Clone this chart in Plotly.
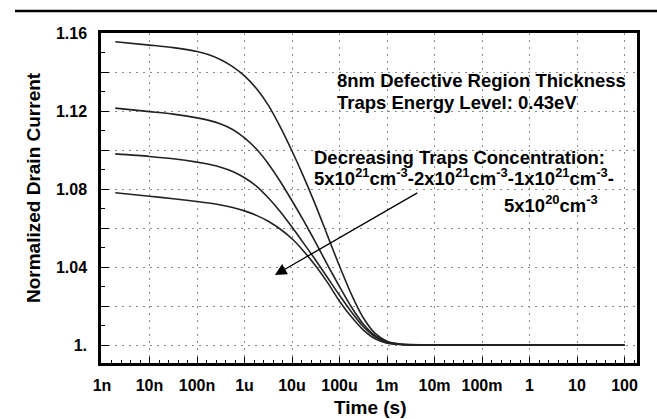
import plotly.graph_objects as go

# ---- data ----
time_s = [1.9e-9, 1e-8, 3.16e-8, 1e-7, 1.78e-7, 3.16e-7, 5.62e-7, 1e-6, 1.78e-6, 3.16e-6,
          5.62e-6, 1e-5, 1.78e-5, 3.16e-5, 5.62e-5, 1e-4, 1.78e-4, 3.16e-4, 5.62e-4, 1e-3,
          1.78e-3, 3.16e-3, 1e-2, 1e-1, 1, 10, 100]

conc_5e21 = [1.1555, 1.1538, 1.1525, 1.1505, 1.1488, 1.1463, 1.1428, 1.1380, 1.1315, 1.1230,
             1.1120, 1.0995, 1.0860, 1.0715, 1.0560, 1.0405, 1.0260, 1.0140, 1.0060, 1.0020,
             1.0006, 1.0002, 1.0, 1.0, 1.0, 1.0, 1.0]
conc_2e21 = [1.1215, 1.1197, 1.1184, 1.1165, 1.1152, 1.1133, 1.1105, 1.1062, 1.1005, 1.0930,
             1.0840, 1.0740, 1.0635, 1.0525, 1.0410, 1.0300, 1.0195, 1.0108, 1.0048, 1.0016,
             1.0005, 1.0001, 1.0, 1.0, 1.0, 1.0, 1.0]
conc_1e21 = [1.0980, 1.0967, 1.0955, 1.0938, 1.0927, 1.0912, 1.0890, 1.0858, 1.0815, 1.0755,
             1.0685, 1.0605, 1.0520, 1.0435, 1.0345, 1.0255, 1.0170, 1.0095, 1.0042, 1.0014,
             1.0004, 1.0001, 1.0, 1.0, 1.0, 1.0, 1.0]
conc_5e20 = [1.0781, 1.0763, 1.0750, 1.0736, 1.0728, 1.0718, 1.0705, 1.0688, 1.0665, 1.0635,
             1.0595, 1.0545, 1.0480, 1.0405, 1.0320, 1.0225, 1.0145, 1.0078, 1.0032, 1.0010,
             1.0003, 1.0001, 1.0, 1.0, 1.0, 1.0, 1.0]

series = [conc_5e21, conc_2e21, conc_1e21, conc_5e20]

x_tick_vals = [1e-9, 1e-8, 1e-7, 1e-6, 1e-5, 1e-4, 1e-3, 1e-2, 1e-1, 1, 10, 100]
x_tick_text = ["1n", "10n", "100n", "1u", "10u", "100u", "1m", "10m", "100m", "1", "10", "100"]
y_tick_vals = [1.00, 1.02, 1.04, 1.06, 1.08, 1.10, 1.12, 1.14, 1.16]
y_tick_text = ["1.", "", "1.04", "", "1.08", "", "1.12", "", "1.16"]

FONT = "Liberation Sans"
W, H = 657, 419
L, R, T, B = 101, 637, 33, 363

def px(xp):
    return (xp - L) / (R - L)

def py(yp):
    return (B - yp) / (B - T)

fig = go.Figure()
for ys in series:
    fig.add_trace(go.Scatter(x=time_s, y=ys, mode="lines",
                             line=dict(color="#222222", width=1.6, shape="spline", smoothing=0.8),
                             showlegend=False, hoverinfo="skip"))

minor_x = []
for d in range(-9, 2):
    for j in range(1, 5):
        minor_x.append(10 ** (d + 0.2 * j))
minor_x += [10 ** 2.2]

fig.update_xaxes(type="log", range=[-9.021, 2.263], automargin=False,
                 tickmode="array", tickvals=x_tick_vals, ticktext=x_tick_text,
                 ticks="inside", ticklen=6, tickwidth=1, tickcolor="black",
                 showline=True, linecolor="black", linewidth=2.5, mirror=True,
                 showgrid=True, gridcolor="#8a8a8a", gridwidth=1, griddash="2px,5px",
                 zeroline=False,
                 minor=dict(tickmode="array", tickvals=minor_x, ticks="inside", ticklen=3,
                            tickcolor="black", showgrid=False),
                 tickfont=dict(family=FONT, size=16, color="black", weight="bold"),
                 ticklabelstandoff=6)
fig.update_yaxes(range=[0.9908, 1.16], automargin=False,
                 tickmode="array", tickvals=y_tick_vals, ticktext=y_tick_text,
                 ticks="inside", ticklen=8, tickwidth=1, tickcolor="black",
                 showline=True, linecolor="black", linewidth=2.5, mirror=True,
                 showgrid=True, gridcolor="#8a8a8a", gridwidth=1, griddash="2px,5px",
                 zeroline=False,
                 minor=dict(dtick=0.01, tick0=1.0, ticks="inside", ticklen=4,
                            tickcolor="black", showgrid=False),
                 tickfont=dict(family=FONT, size=16, color="black", weight="bold"),
                 ticklabelstandoff=8)

tfont = dict(family=FONT, size=19, color="black", weight="bold")
fig.add_annotation(text="Time (s)", xref="paper", yref="paper", x=px(370), y=py(408),
                   xanchor="center", yanchor="middle", showarrow=False, font=tfont)
fig.add_annotation(text="Normalized Drain Current", xref="paper", yref="paper",
                   x=px(33), y=py(188), textangle=-90,
                   xanchor="center", yanchor="middle", showarrow=False, font=tfont)

afont = dict(family=FONT, size=18.5, color="black", weight="bold")
annots = [
    dict(text="8nm Defective Region Thickness", x=px(335), y=py(80)),
    dict(text="Traps Energy Level: 0.43eV", x=px(335), y=py(102)),
    dict(text="Decreasing Traps Concentration:", x=px(312), y=py(157)),
    dict(text="5x10<sup>21</sup>cm<sup>-3</sup>-2x10<sup>21</sup>cm<sup>-3</sup>-1x10<sup>21</sup>cm<sup>-3</sup>-",
         x=px(312), y=py(177)),
    dict(text="5x10<sup>20</sup>cm<sup>-3</sup>", x=px(502), y=py(204)),
]
for a in annots:
    fig.add_annotation(xref="paper", yref="paper", xanchor="left", yanchor="middle",
                       showarrow=False, font=afont, **a)

# arrow pointing across the curves (direction of decreasing trap concentration)
fig.add_annotation(x=-5.36, y=1.0359, xref="x", yref="y",
                   ax=-2.33, ay=1.0785, axref="x", ayref="y",
                   showarrow=True, arrowhead=2, arrowsize=1.8, arrowwidth=1.3,
                   arrowcolor="black", text="")

# page rule at the top
fig.add_shape(type="line", xref="paper", yref="paper",
              x0=px(15), x1=px(657), y0=py(11), y1=py(11),
              line=dict(color="black", width=2.5))

fig.update_layout(width=W, height=H,
                  margin=dict(l=L, r=W - R, t=T, b=H - B, autoexpand=False),
                  paper_bgcolor="white", plot_bgcolor="white",
                  font=dict(family=FONT, color="black"))

fig.write_html("out.html", config={"displayModeBar": False},
               post_script="document.body.style.margin='0';document.body.style.overflow='hidden';")
